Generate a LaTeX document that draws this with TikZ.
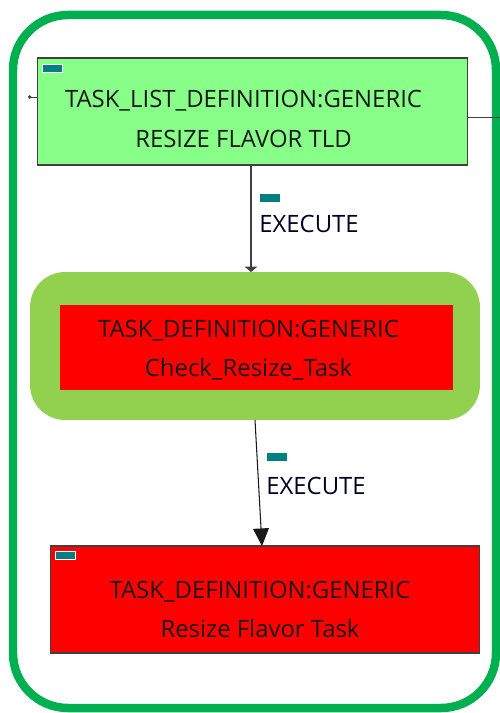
\documentclass[tikz,border=0pt]{standalone}
\usepackage{fontspec}
\setmainfont{Open Sans}
\usetikzlibrary{positioning,arrows.meta}
\definecolor{tldgreen}{HTML}{88FF88}
\definecolor{selgreen}{HTML}{92D050}
\definecolor{framegreen}{HTML}{00B050}
\definecolor{tagteal}{HTML}{008080}
\tikzset{
taskbox/.style={
  draw=black!75,line width=0.6pt,minimum width=#1,minimum height=2.14cm,inner sep=0pt},
tasktext/.style={align=center,font=\fontsize{13.6}{22.5}\selectfont,inner sep=0pt,text=black!90},
tag/.style={fill=tagteal,minimum width=0.4cm,minimum height=0.16cm,inner sep=0pt},
edgelabel/.style={font=\fontsize{13.6}{15}\selectfont,text=black!85!blue,inner sep=0pt,anchor=north west}
}
\begin{document}
\begin{tikzpicture}[x=0.02cm,y=-0.02cm]
\useasboundingbox (0,0) rectangle (500,713);
% outer frame
\draw[framegreen,line width=0.17cm,rounded corners=1.1cm] (13,15) rectangle (496,708);
% nodes
\node[taskbox=8.62cm,fill=tldgreen](tld) at (252.5,111.5){};
\node[tasktext](tldtxt) at ([xshift=-0.18cm,yshift=-0.15cm]tld.center){TASK\_LIST\_DEFINITION:GENERIC\\RESIZE FLAVOR TLD};
\node[fill=selgreen,rounded corners=0.7cm,minimum width=9cm,minimum height=2.96cm](sel) at (255,346){};
\node[taskbox=7.86cm,fill=red,draw=none,minimum height=1.7cm](check) at (256.5,347.5){};
\node[tasktext](checktxt) at ([xshift=-0.16cm,yshift=-0.05cm]check.center){TASK\_DEFINITION:GENERIC\\Check\_Resize\_Task};
\node[taskbox=8.6cm,fill=red](resize) at (265,599.5){};
\node[tasktext](resizetxt) at ([xshift=-0.1cm,yshift=-0.2cm]resize.center){TASK\_DEFINITION:GENERIC\\Resize Flavor Task};
% tags
\node[tag,draw=white,line width=0.3pt](t1) at (52,68){};
\node[tag,draw=white,line width=0.3pt](t3) at (65,555.5){};
% outside stubs
\coordinate (inl) at (28,97);
\coordinate (outr) at (500,117);
\draw[black!75,{Circle[length=2pt]}-] (inl) -- (tld.west |- inl);
\draw[black!75] (tld.east |- outr) -- (outr);
% edges
\coordinate (e1) at (251,272);
\draw[black!75,line width=0.6pt,-{Triangle[length=3pt,width=7pt]}] (tld.south -| e1) -- (e1);
\node[tag](t2) at (270,198){};
\node[edgelabel](l1) at (259,215){EXECUTE};
\coordinate (s2) at (255,420);
\coordinate (e2) at (262,546);
\draw[black!90,line width=0.6pt,-{Triangle[length=10pt,width=9pt]}] (s2) -- (e2);
\node[tag](t4) at (277,457){};
\node[edgelabel](l2) at (266,477){EXECUTE};
\end{tikzpicture}
\end{document}
